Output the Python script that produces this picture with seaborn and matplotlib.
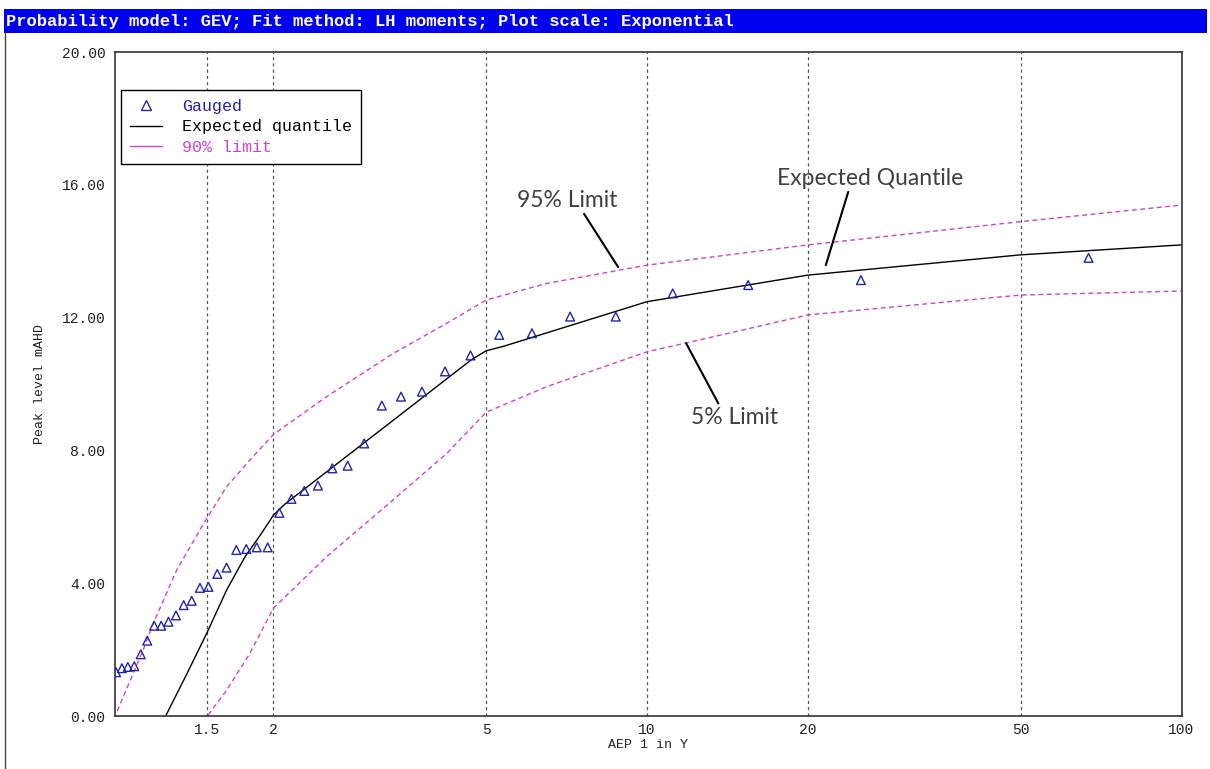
import matplotlib
matplotlib.use("Agg")
import matplotlib.pyplot as plt
from matplotlib.patches import Rectangle
from matplotlib.lines import Line2D
from matplotlib.ticker import NullLocator, FormatStrFormatter
import pandas as pd
import seaborn as sns

# ---- data -------------------------------------------------------------
# Gauged annual maxima: AEP (1 in Y) plotting position and peak level (mAHD)
aep_gauged = [1.015, 1.041, 1.068, 1.098, 1.129, 1.161, 1.196, 1.233, 1.272, 1.314,
              1.358, 1.406, 1.457, 1.511, 1.570, 1.634, 1.704, 1.779, 1.861, 1.951,
              2.051, 2.161, 2.284, 2.422, 2.577, 2.753, 2.956, 3.190, 3.465, 3.792,
              4.188, 4.674, 5.289, 6.091, 7.179, 8.739, 11.17, 15.46, 25.13, 67.00]
level_gauged = [1.32, 1.44, 1.48, 1.50, 1.86, 2.27, 2.72, 2.72, 2.84, 3.03,
                3.34, 3.47, 3.86, 3.89, 4.28, 4.47, 5.00, 5.03, 5.08, 5.08,
                6.12, 6.54, 6.78, 6.94, 7.46, 7.54, 8.21, 9.35, 9.62, 9.77,
                10.38, 10.86, 11.48, 11.53, 12.03, 12.03, 12.73, 12.98, 13.13, 13.80]

# GEV expected quantile curve
aep_expected = [1.257, 1.38, 1.50, 1.635, 1.77, 1.89, 2.00, 2.10, 4.70, 5.00, 5.40,
                10.0, 20.0, 50.0, 100.0]
level_expected = [0.00, 1.30, 2.49, 3.80, 4.80, 5.45, 6.05, 6.38, 10.74, 11.00, 11.14,
                  12.48, 13.28, 13.89, 14.19]

# 90% confidence limits (95% upper, 5% lower)
aep_upper = [1.02, 1.141, 1.192, 1.318, 1.50, 1.635, 1.807, 2.0, 2.515, 3.35, 4.22,
             5.0, 6.49, 10.0, 20.0, 50.0, 100.0]
level_upper = [0.15, 1.99, 2.79, 4.40, 5.95, 6.91, 7.71, 8.48, 9.62, 10.92, 11.83,
               12.53, 13.03, 13.58, 14.19, 14.89, 15.39]

aep_lower = [1.51, 1.635, 1.807, 2.0, 2.515, 3.35, 4.22, 5.0, 6.49, 10.0, 11.8,
             20.0, 50.0, 100.0]
level_lower = [0.03, 0.78, 1.89, 3.25, 4.80, 6.51, 7.91, 9.15, 9.92, 10.97, 11.23,
               12.08, 12.68, 12.80]

x_ticks = [1.5, 2, 5, 10, 20, 50, 100]
x_tick_labels = ["1.5", "2", "5", "10", "20", "50", "100"]
y_ticks = [0, 4, 8, 12, 16, 20]

title_text = "Probability model: GEV; Fit method: LH moments; Plot scale: Exponential"
legend_labels = ["Gauged", "Expected quantile", "90% limit"]

# ---- style ------------------------------------------------------------
BLUE = "#2424aa"
MAGENTA = "#cc44cc"
BAR_BLUE = "#0000f0"
NOTE_GREY = "#404040"
MONO = ["Liberation Mono", "DejaVu Sans Mono"]
NOTE_FONT = ["Lato", "DejaVu Sans"]

sns.set_style("white")
plt.rcParams["font.family"] = MONO

W, H = 1210, 769
fig = plt.figure(figsize=(W / 100, H / 100), dpi=100)
fig.patch.set_facecolor("white")
ax = fig.add_axes([115 / W, 1 - 716 / H, (1181.5 - 115) / W, (716 - 52) / H])

gauged = pd.DataFrame({"aep": aep_gauged, "level": level_gauged})
expected = pd.DataFrame({"aep": aep_expected, "level": level_expected})
upper = pd.DataFrame({"aep": aep_upper, "level": level_upper})
lower = pd.DataFrame({"aep": aep_lower, "level": level_lower})

dash = (0, (3.5, 2.5))
sns.lineplot(data=upper, x="aep", y="level", ax=ax, color=MAGENTA, lw=1.0,
             linestyle=dash, estimator=None, sort=False, legend=False)
sns.lineplot(data=lower, x="aep", y="level", ax=ax, color=MAGENTA, lw=1.0,
             linestyle=dash, estimator=None, sort=False, legend=False)
sns.lineplot(data=expected, x="aep", y="level", ax=ax, color="black", lw=1.0,
             estimator=None, sort=False, legend=False)
sns.scatterplot(data=gauged, x="aep", y="level", ax=ax, marker="^", s=40,
                legend=False, zorder=5)
pts = ax.collections[-1]
pts.set_facecolor("none")
pts.set_edgecolor(BLUE)
pts.set_linewidth(1.0)

# ---- axes -------------------------------------------------------------
ax.set_xscale("log")
ax.set_xlim(1.0104, 100)
ax.set_ylim(0, 20)
ax.set_xticks(x_ticks)
ax.set_xticklabels(x_tick_labels)
ax.xaxis.set_minor_locator(NullLocator())
ax.set_yticks(y_ticks)
ax.yaxis.set_major_formatter(FormatStrFormatter("%.2f"))
ax.tick_params(axis="x", length=0, pad=5, labelsize=10.5, colors="#222222")
ax.tick_params(axis="y", direction="in", length=3, width=1, pad=7,
               labelsize=10.5, colors="#222222")
ax.grid(axis="x", which="major", color="#555555", linestyle=(0, (2.5, 2.5)), lw=0.9)
ax.grid(axis="y", visible=False)
for sp in ax.spines.values():
    sp.set_visible(True)
    sp.set_color("#333333")
    sp.set_linewidth(1.2)

ax.set_xlabel("AEP 1 in Y", fontsize=9.5, color="#222222")
ax.set_ylabel("Peak level mAHD", fontsize=9.5, color="#222222")
ax.xaxis.label.set_va("center")
ax.yaxis.label.set_va("center")
ax.xaxis.set_label_coords(0.5, (716 - 745) / 664)
ax.yaxis.set_label_coords((40 - 115) / 1066.5, 0.5)

# ---- legend -----------------------------------------------------------
handles = [
    Line2D([], [], ls="none", marker="^", ms=7, mfc="none", mec=BLUE, mew=1.0),
    Line2D([], [], color="black", lw=1.0),
    Line2D([], [], color=MAGENTA, lw=1.0),
]
leg = ax.legend(handles, legend_labels, loc="upper left",
                bbox_to_anchor=(121 / W, 1 - 90 / H), bbox_transform=fig.transFigure,
                borderaxespad=0, frameon=True, fancybox=False, edgecolor="black",
                framealpha=1, prop={"family": MONO, "size": 12},
                handlelength=1.9, handletextpad=1.2, borderpad=0.55, labelspacing=0.32)
leg.get_frame().set_linewidth(1.0)
for t, c in zip(leg.get_texts(), [BLUE, "black", MAGENTA]):
    t.set_color(c)

# ---- callouts ---------------------------------------------------------
note_kw = dict(ha="center", va="center", fontsize=16.5, family=NOTE_FONT,
               color=NOTE_GREY, annotation_clip=False)
ax.annotate("95% Limit", xy=(8.83, 13.52), xytext=(7.08, 15.54),
            arrowprops=dict(arrowstyle="-", color="black", lw=1.5,
                            shrinkA=0, shrinkB=0, relpos=(0.65, 0)), **note_kw)
ax.annotate("Expected Quantile", xy=(21.6, 13.58), xytext=(26.1, 16.2),
            arrowprops=dict(arrowstyle="-", color="black", lw=1.5,
                            shrinkA=0, shrinkB=0, relpos=(0.39, 0)), **note_kw)
ax.annotate("5% Limit", xy=(11.83, 11.23), xytext=(14.6, 9.0),
            arrowprops=dict(arrowstyle="-", color="black", lw=1.5,
                            shrinkA=0, shrinkB=0, relpos=(0.33, 1)), **note_kw)

# ---- window title bar and frame --------------------------------------
fig.add_artist(Rectangle((4 / W, 1 - 33 / H), 1203 / W, 24 / H,
                         transform=fig.transFigure, facecolor=BAR_BLUE,
                         edgecolor="none"))
fig.text(6 / W, 1 - 21 / H, title_text, color="white", fontweight="bold",
         fontsize=12.3, ha="left", va="center", family=MONO)
fig.add_artist(Line2D([4.5 / W, 4.5 / W], [0, 1 - 33 / H], color="#444444",
                      lw=1.0, transform=fig.transFigure))

fig.savefig("out.png", dpi=100)
